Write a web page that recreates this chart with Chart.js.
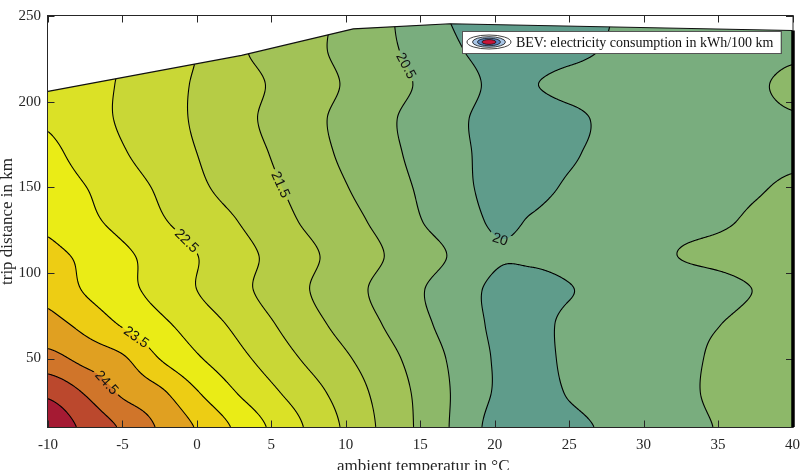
<!DOCTYPE html>
<html>
<head>
<meta charset="utf-8">
<script src="https://cdn.jsdelivr.net/npm/chart.js@4.4.0/dist/chart.umd.min.js"></script>
<style>
    body { margin: 0; background: #fff; }
</style>
</head>
<body>
<canvas id="chart1" width="809" height="470"></canvas>
<script>
// Consumption map (kWh/100 km), one array per trip distance

const temps = [-10, -7.5, -5, -2.5, 0, 2.5, 5, 7.5, 10, 12.5, 15, 17.5, 20, 22.5, 25, 27.5, 30, 32.5, 35, 37.5, 40];
const dists = [10, 30, 50, 70, 90, 110, 130, 150, 170, 190, 210, 230, 250];

const kwh10 = [25.85, 25.38, 24.93, 24.44, 23.96, 23.45, 22.93, 22.43, 21.92, 21.40, 20.91, 20.38, 19.85, 19.75, 19.90, 20.05, 20.20, 20.35, 20.52, 20.62, 20.70];
const kwh30 = [25.40, 24.96, 24.42, 24.10, 23.54, 23.03, 22.60, 22.20, 21.78, 21.33, 20.89, 20.41, 19.97, 19.80, 20.03, 20.15, 20.25, 20.40, 20.58, 20.65, 20.70];
const kwh50 = [24.67, 24.34, 24.07, 23.49, 23.06, 22.68, 22.29, 21.91, 21.56, 21.19, 20.79, 20.37, 19.97, 19.82, 20.10, 20.20, 20.30, 20.40, 20.56, 20.65, 20.72];
const kwh70 = [24.16, 23.85, 23.45, 23.11, 22.77, 22.42, 22.04, 21.67, 21.33, 20.99, 20.62, 20.27, 19.93, 19.85, 20.10, 20.20, 20.30, 20.40, 20.49, 20.62, 20.70];
const kwh90 = [23.85, 23.46, 23.15, 22.84, 22.50, 22.17, 21.84, 21.51, 21.19, 20.87, 20.54, 20.21, 19.92, 19.85, 19.98, 20.12, 20.22, 20.30, 20.38, 20.51, 20.60];
const kwh110 = [23.61, 23.40, 23.10, 22.81, 22.51, 22.20, 21.90, 21.59, 21.30, 21.01, 20.71, 20.41, 20.05, 20.06, 20.15, 20.25, 20.38, 20.51, 20.58, 20.65, 20.70];
const kwh130 = [23.42, 23.13, 22.85, 22.56, 22.29, 22.03, 21.72, 21.42, 21.16, 20.87, 20.52, 20.23, 19.95, 20.03, 20.18, 20.25, 20.30, 20.38, 20.45, 20.55, 20.60];
const kwh150 = [23.26, 23.01, 22.72, 22.43, 22.10, 21.83, 21.58, 21.30, 21.02, 20.73, 20.44, 20.13, 19.88, 19.88, 20.05, 20.15, 20.25, 20.32, 20.40, 20.47, 20.54];
const kwh170 = [23.11, 22.81, 22.54, 22.26, 22.00, 21.74, 21.48, 21.19, 20.91, 20.64, 20.37, 20.10, 19.87, 19.82, 19.95, 20.10, 20.20, 20.28, 20.35, 20.40, 20.45];
const kwh190 = [22.95, 22.69, 22.44, 22.19, 21.94, 21.67, 21.40, 21.13, 20.87, 20.60, 20.34, 20.08, 19.85, 19.80, 19.90, 20.08, 20.20, 20.28, 20.35, 20.42, 20.48];
const kwh210 = [22.93, 22.69, 22.45, 22.20, 21.95, 21.71, 21.46, 21.21, 20.96, 20.70, 20.45, 20.19, 19.93, 19.98, 20.12, 20.20, 20.28, 20.34, 20.40, 20.46, 20.56];
const kwh230 = [23.00, 22.75, 22.50, 22.25, 22.00, 21.60, 21.36, 21.12, 20.88, 20.62, 20.34, 20.04, 19.85, 19.80, 19.88, 20.03, 20.15, 20.25, 20.32, 20.38, 20.45];
const kwh250 = [23.00, 22.75, 22.50, 22.25, 22.00, 21.70, 21.42, 21.15, 20.90, 20.62, 20.20, 19.95, 19.82, 19.80, 19.85, 19.98, 20.12, 20.22, 20.30, 20.36, 20.42];

const grid = [kwh10, kwh30, kwh50, kwh70, kwh90, kwh110, kwh130, kwh150, kwh170, kwh190, kwh210, kwh230, kwh250];

// contour levels and the fill colour of each band (below first level ... above last)
const levels = [20, 20.5, 21, 21.5, 22, 22.5, 23, 23.5, 24, 24.5, 25, 25.5];
const bandColors = ['#5f9c8b', '#79ad7e', '#8db869', '#a2c257', '#b6cc45', '#c9d736',
    '#dbe126', '#eaec16', '#edcd14', '#e0a021', '#d0752a', '#bb482d', '#a51a33'];

// longest measured trip per temperature (upper edge of the map)
const boundaryTemp = [-10, 3, 10.5, 17, 40];
const boundaryDist = [206, 227, 242.5, 245.5, 241.5];

// inline contour labels (level, rough spot)
const labelLevels = [20.5, 21.5, 22.5, 23.5, 24.5, 20];
const labelTemps = [13.6, 5.5, -0.9, -4.2, -6.3, 20.1];
const labelDists = [219, 151, 117, 61, 34, 117];

const yTicks = [50, 100, 150, 200, 250];

const AXIS = '#262626';
const SERIF = '"Liberation Serif", "Times New Roman", serif';

// smooth interpolation of the grid (Catmull-Rom)
function catmull(p0, p1, p2, p3, t) {
    return p1 + 0.5 * t * (p2 - p0 + t * (2 * p0 - 5 * p1 + 4 * p2 - p3 + t * (3 * (p1 - p2) + p3 - p0)));
}

function fracIndex(arr, v) {
    const n = arr.length - 1;
    if (v <= arr[0]) return 0;
    if (v >= arr[n]) return n;
    let k = 0;
    while (arr[k + 1] < v) k++;
    return k + (v - arr[k]) / (arr[k + 1] - arr[k]);
}

function field(t, d) {
    const nx = temps.length, ny = dists.length;
    const fx = fracIndex(temps, t), fy = fracIndex(dists, d);
    const i = Math.min(Math.floor(fx), nx - 2), j = Math.min(Math.floor(fy), ny - 2);
    const tx = fx - i, ty = fy - j;
    const ci = k => Math.max(0, Math.min(nx - 1, k));
    const cj = k => Math.max(0, Math.min(ny - 1, k));
    const r = [];
    for (let m = -1; m <= 2; m++) {
        const row = grid[cj(j + m)];
        r.push(catmull(row[ci(i - 1)], row[i], row[i + 1], row[ci(i + 2)], tx));
    }
    return catmull(r[0], r[1], r[2], r[3], ty);
}

function hexToRgb(h) {
    return [parseInt(h.slice(1, 3), 16), parseInt(h.slice(3, 5), 16), parseInt(h.slice(5, 7), 16)];
}

function dataRegion(chart) {
    const {ctx, scales: {x, y}} = chart;
    ctx.beginPath();
    ctx.moveTo(x.getPixelForValue(temps[0]), y.getPixelForValue(dists[0]));
    boundaryTemp.forEach((t, i) => ctx.lineTo(x.getPixelForValue(t), y.getPixelForValue(boundaryDist[i])));
    ctx.lineTo(x.getPixelForValue(temps[temps.length - 1]), y.getPixelForValue(dists[0]));
    ctx.closePath();
}

// put a label on its contour (newton steps in pixel space)
function locateLabel(chart, t0, d0, lev) {
    const {x, y} = chart.scales;
    const f = (u, v) => field(x.getValueForPixel(u), y.getValueForPixel(v)) - lev;
    let px = x.getPixelForValue(t0), py = y.getPixelForValue(d0);
    let gx = 0, gy = 0;
    for (let n = 0; n < 40; n++) {
        const z = f(px, py);
        gx = (f(px + 1, py) - f(px - 1, py)) / 2;
        gy = (f(px, py + 1) - f(px, py - 1)) / 2;
        const g2 = gx * gx + gy * gy || 1e-9;
        let sx = z * gx / g2, sy = z * gy / g2;
        const s = Math.hypot(sx, sy);
        if (s > 4) { sx *= 4 / s; sy *= 4 / s; }
        px -= sx; py -= sy;
        if (Math.abs(z) < 1e-5) break;
    }
    let ang = Math.atan2(gx, -gy);
    if (ang > Math.PI / 2) ang -= Math.PI;
    if (ang <= -Math.PI / 2) ang += Math.PI;
    return {px, py, ang};
}

const contourPlugin = {
    id: 'contour',
    beforeDatasetsDraw(chart) {
        const {ctx, chartArea: a, scales: {x, y}} = chart;
        const w = Math.round(a.right - a.left), h = Math.round(a.bottom - a.top);

        // sample the map at every pixel
        const Z = new Float32Array(w * h);
        for (let j = 0; j < h; j++) {
            const d = y.getValueForPixel(a.top + j + 0.5);
            for (let i = 0; i < w; i++) {
                Z[j * w + i] = field(x.getValueForPixel(a.left + i + 0.5), d);
            }
        }

        // filled bands
        const off = document.createElement('canvas');
        off.width = w; off.height = h;
        const octx = off.getContext('2d');
        const img = octx.createImageData(w, h);
        const rgb = bandColors.map(hexToRgb);
        for (let k = 0; k < w * h; k++) {
            let b = 0;
            while (b < levels.length && Z[k] >= levels[b]) b++;
            const c = rgb[b];
            img.data[k * 4] = c[0];
            img.data[k * 4 + 1] = c[1];
            img.data[k * 4 + 2] = c[2];
            img.data[k * 4 + 3] = 255;
        }
        octx.putImageData(img, 0, 0);

        ctx.save();
        dataRegion(chart);
        ctx.clip();
        ctx.drawImage(off, a.left, a.top);

        // label spots, cut out of the lines
        ctx.font = '14px "Liberation Sans", Arial, sans-serif';
        const labels = labelLevels.map((lev, i) => {
            const p = locateLabel(chart, labelTemps[i], labelDists[i], lev);
            p.text = String(lev);
            p.tw = ctx.measureText(p.text).width;
            return p;
        });
        ctx.beginPath();
        ctx.rect(a.left - 5, a.top - 5, w + 10, h + 10);
        labels.forEach(p => {
            const hw = p.tw / 2 + 3, hh = 6;
            const c = Math.cos(p.ang), s = Math.sin(p.ang);
            const pts = [[-hw, -hh], [hw, -hh], [hw, hh], [-hw, hh]];
            pts.forEach(([u, v], n) => {
                const X = p.px + u * c - v * s, Y = p.py + u * s + v * c;
                if (n === 0) ctx.moveTo(X, Y); else ctx.lineTo(X, Y);
            });
            ctx.closePath();
        });
        ctx.clip('evenodd');

        // contour lines (marching squares)
        ctx.beginPath();
        const seg = (p, q) => { ctx.moveTo(p[0], p[1]); ctx.lineTo(q[0], q[1]); };
        for (let j = 0; j < h - 1; j++) {
            for (let i = 0; i < w - 1; i++) {
                const k = j * w + i;
                const z00 = Z[k], z10 = Z[k + 1], z01 = Z[k + w], z11 = Z[k + w + 1];
                const lo = Math.min(z00, z10, z01, z11), hi = Math.max(z00, z10, z01, z11);
                const X0 = a.left + i + 0.5, Y0 = a.top + j + 0.5;
                for (const lev of levels) {
                    if (lo >= lev || hi < lev) continue;
                    const p = [];
                    if ((z00 < lev) !== (z10 < lev)) p.push([X0 + (lev - z00) / (z10 - z00), Y0]);
                    if ((z10 < lev) !== (z11 < lev)) p.push([X0 + 1, Y0 + (lev - z10) / (z11 - z10)]);
                    if ((z01 < lev) !== (z11 < lev)) p.push([X0 + (lev - z01) / (z11 - z01), Y0 + 1]);
                    if ((z00 < lev) !== (z01 < lev)) p.push([X0, Y0 + (lev - z00) / (z01 - z00)]);
                    if (p.length === 2) {
                        seg(p[0], p[1]);
                    } else if (p.length === 4) {
                        const c = (z00 + z10 + z01 + z11) / 4;
                        if ((c < lev) === (z00 < lev)) { seg(p[0], p[1]); seg(p[2], p[3]); }
                        else { seg(p[3], p[0]); seg(p[1], p[2]); }
                    }
                }
            }
        }
        ctx.strokeStyle = '#000';
        ctx.lineWidth = 1.1;
        ctx.lineCap = 'round';
        ctx.stroke();
        ctx.restore();

        // label text
        ctx.save();
        ctx.font = '14px "Liberation Sans", Arial, sans-serif';
        ctx.fillStyle = '#111';
        ctx.textAlign = 'center';
        ctx.textBaseline = 'middle';
        labels.forEach(p => {
            ctx.save();
            ctx.translate(p.px, p.py);
            ctx.rotate(p.ang);
            ctx.fillText(p.text, 0, 1);
            ctx.restore();
        });
        ctx.restore();
    },
    afterDraw(chart) {
        const {ctx, chartArea: a, scales: {x, y}} = chart;

        // upper edge of the data
        ctx.save();
        ctx.beginPath();
        boundaryTemp.forEach((t, i) => {
            const X = x.getPixelForValue(t), Y = y.getPixelForValue(boundaryDist[i]);
            if (i === 0) ctx.moveTo(X, Y); else ctx.lineTo(X, Y);
        });
        ctx.strokeStyle = '#111';
        ctx.lineWidth = 1.1;
        ctx.stroke();

        // box with inward ticks
        const L = a.left - 0.5, R = a.right + 0.5, T = a.top - 0.5, B = a.bottom + 0.5;
        ctx.strokeStyle = AXIS;
        ctx.lineWidth = 1;
        ctx.strokeRect(L, T, R - L, B - T);
        ctx.beginPath();
        x.ticks.forEach(t => {
            const X = Math.round(x.getPixelForValue(t.value)) + 0.5;
            ctx.moveTo(X, B); ctx.lineTo(X, B - 7);
            ctx.moveTo(X, T); ctx.lineTo(X, T + 7);
        });
        y.ticks.forEach(t => {
            const Y = Math.round(y.getPixelForValue(t.value)) + 0.5;
            ctx.moveTo(L, Y); ctx.lineTo(L + 7, Y);
            ctx.moveTo(R, Y); ctx.lineTo(R - 7, Y);
        });
        ctx.stroke();

        // heavy right edge of the map
        const xr = x.getPixelForValue(boundaryTemp[boundaryTemp.length - 1]) + 0.5;
        ctx.beginPath();
        ctx.moveTo(xr, y.getPixelForValue(boundaryDist[boundaryDist.length - 1]));
        ctx.lineTo(xr, a.bottom);
        ctx.strokeStyle = '#000';
        ctx.lineWidth = 3.5;
        ctx.stroke();

        // axis titles
        ctx.fillStyle = AXIS;
        ctx.font = '17px ' + SERIF;
        ctx.textAlign = 'center';
        ctx.textBaseline = 'alphabetic';
        ctx.fillText('ambient temperatur in \u00b0C', (a.left + a.right) / 2 + 3, 471);
        ctx.save();
        ctx.translate(8, (a.top + a.bottom) / 2);
        ctx.rotate(-Math.PI / 2);
        ctx.textBaseline = 'middle';
        ctx.fillText('trip distance in km', 0, 0);
        ctx.restore();

        // legend
        const label = chart.data.datasets[0].label;
        ctx.font = '14px ' + SERIF;
        const tw = ctx.measureText(label).width;
        const boxR = a.right - 12, boxT = a.top + 15, boxB = boxT + 22;
        const textX = boxR - 7 - tw;
        const boxL = textX - 54;
        ctx.fillStyle = '#fff';
        ctx.fillRect(boxL, boxT, boxR - boxL, boxB - boxT);
        ctx.strokeStyle = '#555';
        ctx.lineWidth = 1;
        ctx.strokeRect(Math.round(boxL) + 0.5, boxT + 0.5, Math.round(boxR - boxL), boxB - boxT);
        const cx = boxL + 27, cy = (boxT + boxB) / 2;
        [[22, 7, '#ffffff'], [16.5, 5.3, '#a9c6e6'], [11.5, 3.8, '#5b84c4'], [7, 2.4, '#c8153a']].forEach(([rx, ry, col]) => {
            ctx.beginPath();
            ctx.ellipse(cx, cy, rx, ry, 0, 0, Math.PI * 2);
            ctx.fillStyle = col;
            ctx.fill();
            ctx.strokeStyle = '#111';
            ctx.lineWidth = 0.8;
            ctx.stroke();
        });
        ctx.fillStyle = '#111';
        ctx.textAlign = 'left';
        ctx.textBaseline = 'middle';
        ctx.fillText(label, textX, cy + 1);
        ctx.restore();
    }
};

let chart1 = new Chart(document.getElementById('chart1'), {
    type: 'scatter',
    data: {
        datasets: [{
            label: 'BEV: electricity consumption in kWh/100 km',
            data: []
        }]
    },
    options: {
        responsive: false,
        animation: false,
        layout: { padding: { left: 0, top: 13, right: 11, bottom: 0 } },
        plugins: {
            legend: { display: false },
            tooltip: { enabled: false }
        },
        scales: {
            x: {
                type: 'linear',
                min: temps[0],
                max: temps[temps.length - 1],
                grid: { display: false, drawTicks: false, tickLength: 0 },
                border: { display: false },
                ticks: {
                    stepSize: 5,
                    autoSkip: false,
                    maxRotation: 0,
                    padding: 9,
                    color: AXIS,
                    font: { family: SERIF, size: 15 }
                },
                afterFit: s => { s.height = 43; }
            },
            y: {
                type: 'linear',
                min: dists[0],
                max: dists[dists.length - 1],
                grid: { display: false, drawTicks: false, tickLength: 0 },
                border: { display: false },
                afterBuildTicks: s => { s.ticks = yTicks.map(v => ({ value: v })); },
                ticks: {
                    autoSkip: false,
                    padding: 7,
                    color: AXIS,
                    font: { family: SERIF, size: 15 }
                },
                afterFit: s => { s.width = 48; }
            }
        }
    },
    plugins: [contourPlugin]
});
</script>
</body>
</html>
